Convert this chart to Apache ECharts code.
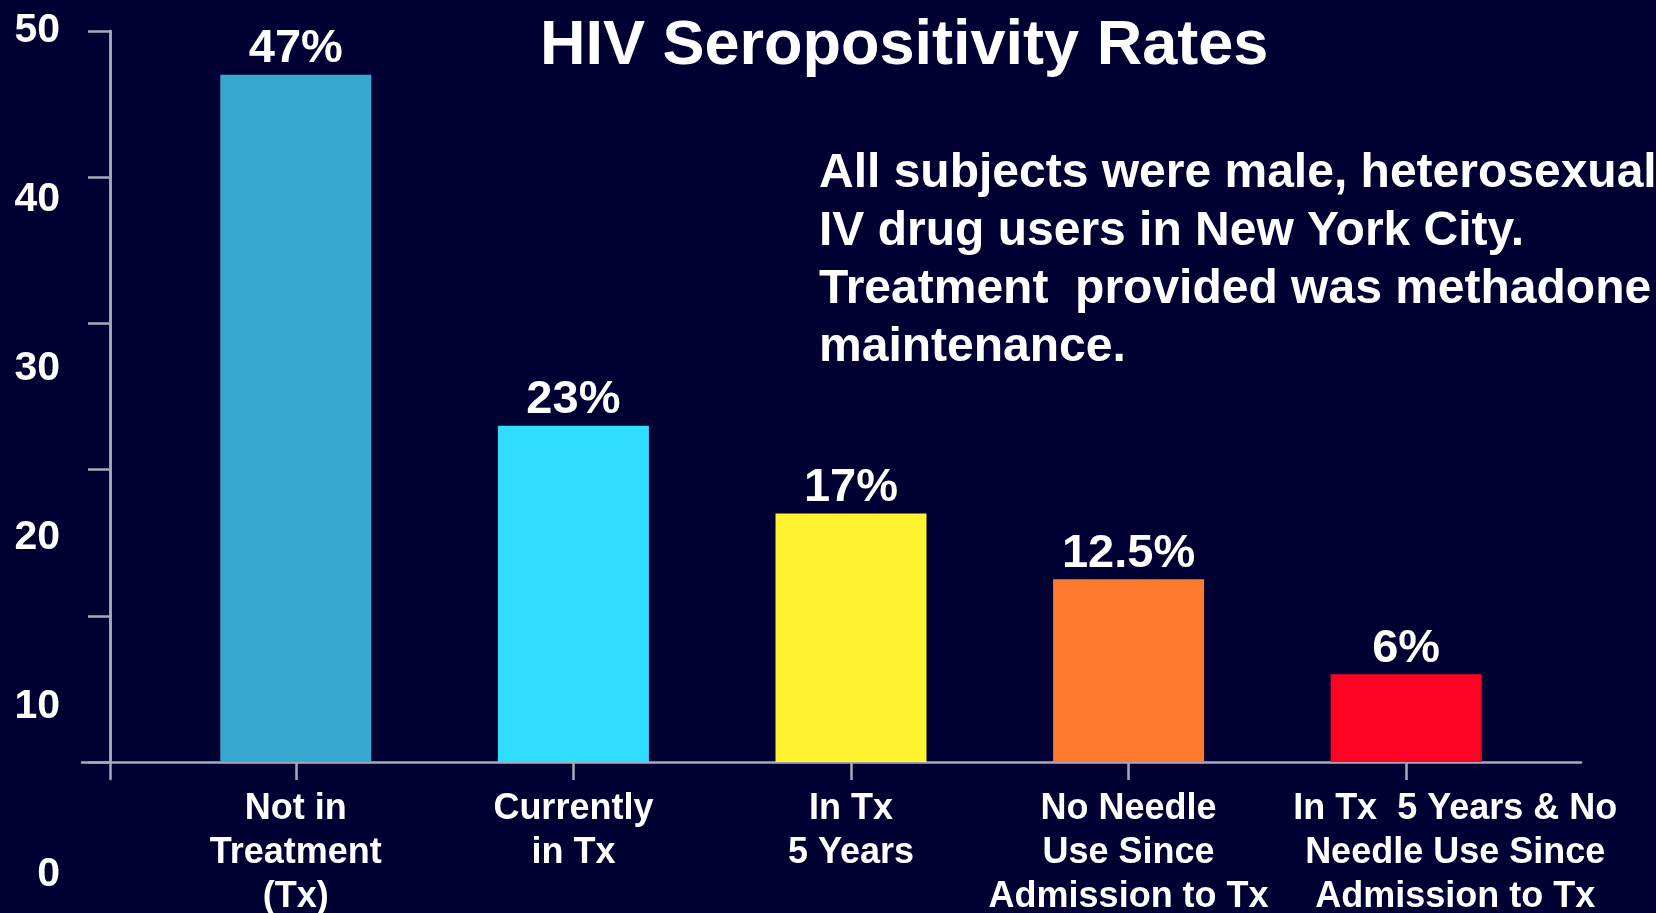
<!DOCTYPE html>
<html>
<head>
<meta charset="utf-8">
<script src="https://cdn.jsdelivr.net/npm/echarts@6/dist/echarts.min.js"></script>
<style>
html,body{margin:0;padding:0;background:#000032;}
#chart{width:1656px;height:913px;}
</style>
</head>
<body>
<div id="chart"></div>
<script>
const categories = [
  'Not in\nTreatment\n(Tx)',
  'Currently\nin Tx',
  'In Tx\n5 Years',
  'No Needle\nUse Since\nAdmission to Tx',
  'In Tx  5 Years & No\nNeedle Use Since\nAdmission to Tx'
];
const values = [47, 23, 17, 12.5, 6];
const barColors = ['#38A9CE', '#30DCFF', '#FFF22E', '#FF7A2E', '#FF0422'];
const yTickLabels = [0, 10, 20, 30, 40, 50];
const titleText = 'HIV Seropositivity Rates';
const noteText = 'All subjects were male, heterosexual\nIV drug users in New York City.\nTreatment  provided was methadone\nmaintenance.';

const FONT = '"Liberation Sans", Arial, sans-serif';
const AXIS = '#A9A9BC';

const chart = echarts.init(document.getElementById('chart'));
chart.setOption({
  backgroundColor: '#000032',
  animation: false,
  title: [
    { text: titleText, left: 540, top: 15, padding: 0,
      textStyle: { color: '#fff', fontFamily: FONT, fontWeight: 'bold', fontSize: 63, lineHeight: 63 } },
    { text: noteText, left: 819, top: 145, padding: 0,
      textStyle: { color: '#fff', fontFamily: FONT, fontWeight: 'bold', fontSize: 48, lineHeight: 58 } }
  ],
  grid: [
    { left: 157, right: 111, top: 31, bottom: 151, containLabel: false, outerBoundsMode: 'none' },
    { left: 82, right: 75, top: 31, bottom: 151, containLabel: false, outerBoundsMode: 'none' },
    { left: 60, width: 10, top: 31, bottom: 38, containLabel: false, outerBoundsMode: 'none' },
    { left: 110, width: 10, top: 31, bottom: 134, containLabel: false, outerBoundsMode: 'none' }
  ],
  xAxis: [
    { type: 'category', gridIndex: 0,
      data: categories.map((c, i) => i === 4 ? { value: c, textStyle: { padding: [0, 0, 0, 98] } } : c),
      axisLine: { show: false },
      axisTick: { show: true, alignWithLabel: true, length: 18, lineStyle: { color: AXIS, width: 2.5 } },
      axisLabel: { color: '#fff', fontFamily: FONT, fontWeight: 'bold', fontSize: 36, lineHeight: 44, margin: 25, interval: 0 } },
    { type: 'value', gridIndex: 1, min: 0, max: 1,
      axisLine: { show: true, onZero: false, lineStyle: { color: AXIS, width: 2.5 } },
      axisTick: { show: false }, axisLabel: { show: false }, splitLine: { show: false } },
    { type: 'value', gridIndex: 2, show: false },
    { type: 'category', gridIndex: 3, show: false, data: ['a'] }
  ],
  yAxis: [
    { type: 'value', gridIndex: 0, min: 0, max: 50, interval: 10, offset: 47,
      axisLine: { show: true, lineStyle: { color: AXIS, width: 2.5 } },
      axisTick: { show: true, length: 22, lineStyle: { color: AXIS, width: 2.5 } },
      axisLabel: { show: false }, splitLine: { show: false } },
    { type: 'value', gridIndex: 1, show: false },
    { type: 'value', gridIndex: 2, min: yTickLabels[0], max: yTickLabels[yTickLabels.length - 1], interval: 10,
      axisLine: { show: false }, axisTick: { show: false }, splitLine: { show: false },
      axisLabel: { color: '#fff', fontFamily: FONT, fontWeight: 'bold', fontSize: 41, margin: 0 } },
    { type: 'value', gridIndex: 3, min: 0, max: 1,
      axisLine: { show: true, onZero: false, lineStyle: { color: AXIS, width: 2.5 } },
      axisTick: { show: false }, axisLabel: { show: false }, splitLine: { show: false } }
  ],
  series: [{
    type: 'bar', xAxisIndex: 0, yAxisIndex: 0,
    barWidth: 151,
    data: values.map((v, i) => ({ value: v, itemStyle: { color: barColors[i] } })),
    label: { show: true, position: 'top', distance: 2, formatter: '{c}%',
      color: '#fff', fontFamily: FONT, fontWeight: 'bold', fontSize: 47 }
  }]
});
</script>
</body>
</html>
